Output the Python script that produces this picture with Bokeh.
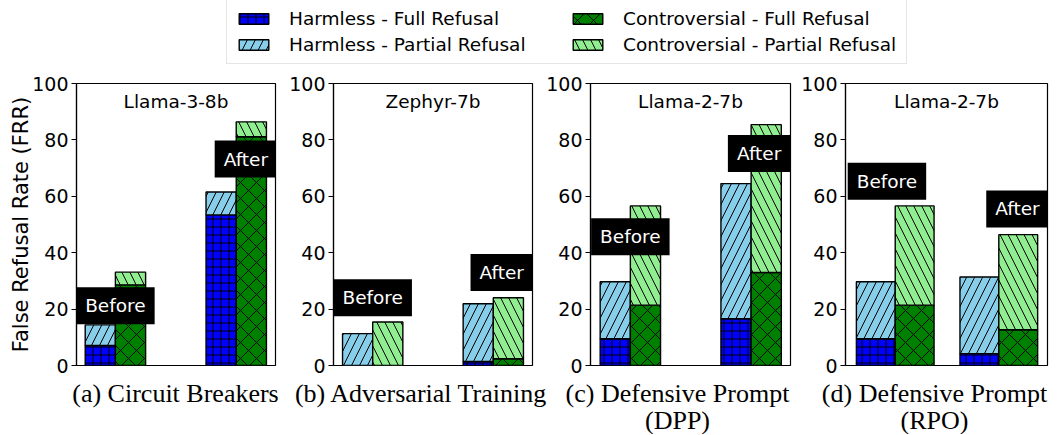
import numpy as np
from bokeh.plotting import figure
from bokeh.models import ColumnDataSource, Range1d, FixedTicker, Label, Legend, LegendItem
from bokeh.layouts import column, row
from bokeh.embed import file_html
from bokeh.resources import INLINE

# ---------------- data ----------------
stages = ["Before", "After"]
models = ["Llama-3-8b", "Zephyr-7b", "Llama-2-7b", "Llama-2-7b"]
captions = ["(a) Circuit Breakers", "(b) Adversarial Training",
            "(c) Defensive Prompt\n(DPP)", "(d) Defensive Prompt\n(RPO)"]
y_ticks = [0, 20, 40, 60, 80, 100]
series_names = ["Harmless - Full Refusal", "Harmless - Partial Refusal",
                "Controversial - Full Refusal", "Controversial - Partial Refusal"]

# per panel: [Before, After]
harmless_full = [[7.1, 53.4], [0.0, 1.4], [9.5, 16.6], [9.5, 4.2]]
harmless_partial = [[7.3, 8.1], [11.3, 20.5], [20.2, 47.9], [20.2, 27.2]]
controversial_full = [[28.6, 81.1], [0.0, 2.4], [21.4, 33.0], [21.4, 12.7]]
controversial_partial = [[4.5, 5.3], [15.4, 21.6], [35.2, 52.4], [35.2, 33.7]]

# ---------------- styles / layout ----------------
FONT = "DejaVu Sans"
common = dict(line_color="black", line_width=1.4, hatch_color="black", hatch_weight=1)
STY = [
    dict(fill_color="#0000ff", hatch_pattern="+", hatch_scale=8),
    dict(fill_color="#87ceeb", hatch_pattern="/", hatch_scale=16),
    dict(fill_color="#008000", hatch_pattern="x", hatch_scale=16),
    dict(fill_color="#90ee90", hatch_pattern="\\", hatch_scale=16),
]
bar_w = [0.25, 0.25, 0.25, 0.375]
x_lims = [(-0.322, 1.325), (-0.325, 1.325), (-0.33, 1.326), (-0.48, 1.47)]
fig_w = [278, 257, 258, 259]
b_left = [76, 55, 55, 52]
b_right = [3, 3, 3, 5]
before_pos = [(0.0, 21.2), (0.0, 24.0), (0.0, 45.7), (-0.08, 65.3)]
after_pos = [(1.08, 73.2), (1.07, 33.0), (1.066, 75.2), (1.18, 55.5)]
caption_x = [175, 421, 677, 934]

panels = []
sources = []
for i in range(4):
    w = bar_w[i]
    idx = np.arange(len(stages), dtype=float)
    hf = np.array(harmless_full[i])
    hp = np.array(harmless_partial[i])
    cf = np.array(controversial_full[i])
    cp = np.array(controversial_partial[i])
    src = ColumnDataSource(dict(
        xh=idx - w / 2, xc=idx + w / 2,
        zero=np.zeros_like(idx),
        hf=hf, hft=hf + hp, cf=cf, cft=cf + cp,
    ))
    sources.append(src)
    p = figure(width=fig_w[i], height=306, x_range=Range1d(*x_lims[i]), y_range=Range1d(0, 100),
               output_backend="svg", toolbar_location=None, x_axis_location=None,
               min_border_left=b_left[i], min_border_right=b_right[i],
               min_border_top=13, min_border_bottom=11)
    p.vbar(x="xh", bottom="zero", top="hf", width=w, source=src, **common, **STY[0])
    p.vbar(x="xh", bottom="hf", top="hft", width=w, source=src, **common, **STY[1])
    p.vbar(x="xc", bottom="zero", top="cf", width=w, source=src, **common, **STY[2])
    p.vbar(x="xc", bottom="cf", top="cft", width=w, source=src, **common, **STY[3])

    p.grid.visible = False
    p.outline_line_color = "black"
    p.outline_line_width = 1.2
    p.outline_line_alpha = 1
    ax = p.yaxis[0]
    ax.ticker = FixedTicker(ticks=y_ticks)
    ax.major_label_text_font = FONT
    ax.major_label_text_font_size = "19px"
    ax.major_label_text_color = "black"
    ax.major_tick_out = 5
    ax.major_tick_in = 0
    ax.minor_tick_out = 0
    ax.minor_tick_in = 0
    ax.major_label_standoff = 3
    ax.axis_line_color = "black"
    ax.axis_line_width = 1.2
    ax.major_tick_line_width = 1.2
    ax.major_tick_line_color = "black"
    if i == 0:
        ax.axis_label = "False Refusal Rate (FRR)"
        ax.axis_label_text_font = FONT
        ax.axis_label_text_font_size = "21px"
        ax.axis_label_text_font_style = "normal"
        ax.axis_label_text_color = "black"
        ax.axis_label_standoff = -4

    xm = (x_lims[i][0] + x_lims[i][1]) / 2
    p.add_layout(Label(x=xm, y=93.6, text=models[i], text_align="center", text_baseline="middle",
                       text_font=FONT, text_font_size="18.5px", text_color="black"))
    for (lx, ly), txt in zip([before_pos[i], after_pos[i]], stages):
        p.add_layout(Label(x=lx, y=ly, text=txt, text_align="center", text_baseline="middle",
                           text_font=FONT, text_font_size="18.5px", text_color="white",
                           background_fill_color="black", background_fill_alpha=1.0,
                           padding=(9, 8)))
    panels.append(p)

# ---------------- legend figure ----------------
# legend-only canvas: the bars of panel (a) are drawn small, entirely hidden
# behind the opaque legend box; only the legend swatches are seen
lf = figure(width=1056, height=70, x_range=Range1d(-1.0, 2.0), y_range=Range1d(-50, 250),
            output_backend="svg", toolbar_location=None, min_border=0,
            x_axis_location=None, y_axis_location=None)
lf.outline_line_color = None
lf.grid.visible = False
cols = [("xh", "zero", "hf"), ("xh", "hf", "hft"), ("xc", "zero", "cf"), ("xc", "cf", "cft")]
rs = [lf.vbar(x=c[0], bottom=c[1], top=c[2], width=bar_w[0], source=sources[0], **common, **s)
      for c, s in zip(cols, STY)]
legend = Legend(items=[LegendItem(label=n, renderers=[r], index=0) for n, r in zip(series_names, rs)],
                orientation="vertical", nrows=2, location=(226, 6),
                glyph_width=37, glyph_height=13, label_standoff=17, label_width=275,
                label_text_font=FONT, label_text_font_size="18.5px", label_text_color="black",
                spacing=5, padding=8, margin=0,
                border_line_color="#cccccc", border_line_width=1,
                background_fill_color="white", background_fill_alpha=1.0)
lf.add_layout(legend, "center")

# ---------------- caption figure ----------------
capf = figure(width=1056, height=58, x_range=Range1d(0, 1056), y_range=Range1d(0, 58),
              output_backend="svg", toolbar_location=None, min_border=0,
              x_axis_location=None, y_axis_location=None)
capf.outline_line_color = None
capf.grid.visible = False
for cx, cap in zip(caption_x, captions):
    for k, line in enumerate(cap.split("\n")):
        capf.add_layout(Label(x=cx, y=41 - 27 * k, text=line, text_align="center",
                              text_baseline="middle", text_font="Liberation Serif",
                              text_font_size="26px", text_color="black"))

layout = column(lf, row(*panels), capf)
open("out.html", "w").write(file_html(layout, INLINE))
